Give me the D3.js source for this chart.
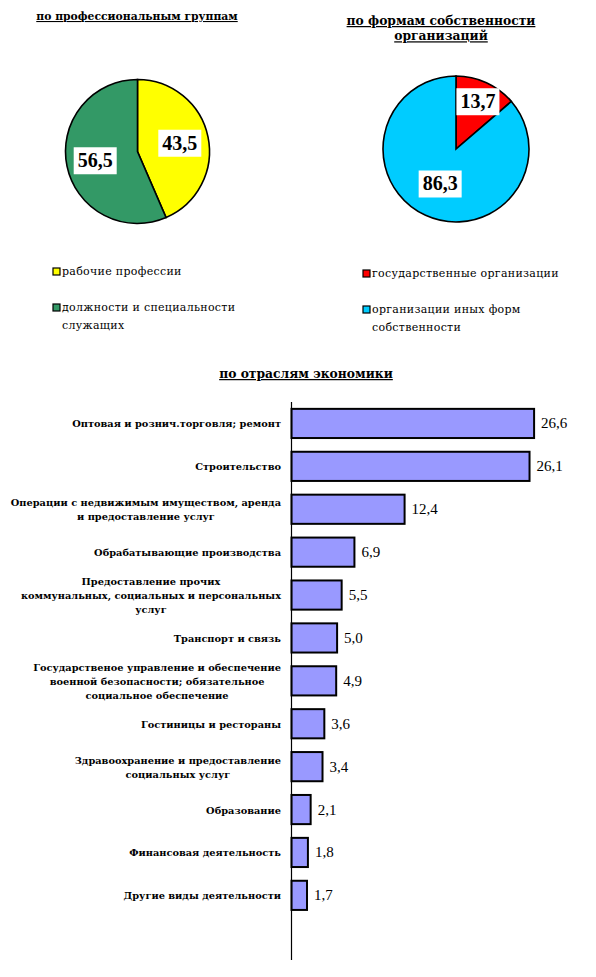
<!DOCTYPE html>
<html>
<head>
<meta charset="utf-8">
<script src="https://cdn.jsdelivr.net/npm/d3@7"></script>
<style>
  html, body { margin: 0; padding: 0; background: #fff; }
  svg { display: block; }
  text { font-family: "Liberation Serif", "DejaVu Serif", serif; fill: #000; }
  text.dv { font-family: "DejaVu Serif", serif; }
</style>
</head>
<body>
<svg id="chart" width="596" height="977"></svg>
<script>
// --- data ---
const profLabels = ['рабочие профессии', 'должности и специальности служащих'];
const profValues = [43.5, 56.5];
const profColors = ['#ffff00', '#339966'];

const ownLabels = ['государственные организации', 'организации иных форм собственности'];
const ownValues = [13.7, 86.3];
const ownColors = ['#ff0000', '#00ccff'];

const industries = [
  'Оптовая и рознич.торговля; ремонт',
  'Строительство',
  'Операции с недвижимым имуществом, аренда\nи предоставление услуг',
  'Обрабатывающие производства',
  'Предоставление прочих\nкоммунальных, социальных и персональных\nуслуг',
  'Транспорт и связь',
  'Государственое управление и обеспечение\nвоенной безопасности; обязательное\nсоциальное обеспечение',
  'Гостиницы и рестораны',
  'Здравоохранение и предоставление\nсоциальных услуг',
  'Образование',
  'Финансовая деятельность',
  'Другие виды деятельности'
];
const industryValues = [26.6, 26.1, 12.4, 6.9, 5.5, 5.0, 4.9, 3.6, 3.4, 2.1, 1.8, 1.7];

const fmt = v => v.toFixed(1).replace('.', ',');
const svg = d3.select('#chart');

// underlined title, one or more lines
function title(x, y, lines, size) {
  lines.forEach((l, i) => {
    svg.append('text')
      .attr('class', 'dv')
      .attr('x', x).attr('y', y + i * (size + 3))
      .attr('text-anchor', 'middle')
      .attr('font-size', size).attr('font-weight', 'bold')
      .attr('text-decoration', 'underline')
      .text(l);
  });
}

function pie(cx, cy, r, values, colors, kBig) {
  const arcs = d3.pie().sort(null)(values);
  const arc = d3.arc().innerRadius(0).outerRadius(r);
  const g = svg.append('g').attr('transform', `translate(${cx},${cy})`);
  g.selectAll('path').data(arcs).join('path')
    .attr('d', arc)
    .attr('fill', (d, i) => colors[i])
    .attr('stroke', '#000').attr('stroke-width', 1.6);

  arcs.forEach(d => {
    const k = d.value < 20 ? 0.72 : kBig;
    const a = (d.startAngle + d.endAngle) / 2;
    const x = Math.sin(a) * r * k, y = -Math.cos(a) * r * k;
    const t = g.append('text')
      .attr('x', x).attr('y', y + 7)
      .attr('text-anchor', 'middle')
      .attr('font-size', 20).attr('font-weight', 'bold')
      .text(fmt(d.value));
    const bb = t.node().getBBox();
    g.insert('rect', 'text')
      .attr('x', bb.x - 4).attr('y', y - 13)
      .attr('width', bb.width + 8).attr('height', 27)
      .attr('fill', '#fff');
  });
}

function legend(x, y, labels, colors, wrapAt) {
  labels.forEach((l, i) => {
    const yy = y + i * 36;
    svg.append('rect')
      .attr('x', x).attr('y', yy - 7)
      .attr('width', 7).attr('height', 7)
      .attr('fill', colors[i]).attr('stroke', '#000').attr('stroke-width', 1.2);
    const words = l.split(' ');
    const lines = words.length > wrapAt ? [words.slice(0, wrapAt).join(' '), words.slice(wrapAt).join(' ')] : [l];
    lines.forEach((s, j) => {
      svg.append('text')
        .attr('class', 'dv')
        .attr('x', x + 9).attr('y', yy + j * 18)
        .attr('font-size', 11).attr('letter-spacing', 0.3)
        .text(s);
    });
  });
}

// --- top pies ---
title(137, 20, ['по профессиональным группам'], 10.8);
pie(137.5, 151.5, 72, profValues, profColors, 0.6);
legend(53, 275, profLabels, profColors, 3);

title(441, 25, ['по формам собственности', 'организаций'], 12.3);
pie(456, 149, 73, ownValues, ownColors, 0.52);
legend(363, 277, ownLabels, ownColors, 3);

// --- bar chart ---
title(306, 378, ['по отраслям экономики'], 12.3);

const x0 = 291.5;
const x = d3.scaleLinear().domain([0, 30]).range([x0, x0 + 273.6]);
const y = d3.scaleBand().domain(industries).range([402, 402 + 12 * 42.9]).paddingInner(0.32).paddingOuter(0.16);

svg.append('g').selectAll('rect').data(industryValues).join('rect')
  .attr('x', x(0))
  .attr('y', (d, i) => y(industries[i]))
  .attr('width', d => x(d) - x(0))
  .attr('height', y.bandwidth())
  .attr('fill', '#9999ff')
  .attr('stroke', '#000').attr('stroke-width', 2);

svg.append('line')
  .attr('x1', x0).attr('x2', x0)
  .attr('y1', 402).attr('y2', 960)
  .attr('stroke', '#000').attr('stroke-width', 1.2);

svg.append('g').selectAll('text').data(industryValues).join('text')
  .attr('x', d => x(d) + 7)
  .attr('y', (d, i) => y(industries[i]) + y.bandwidth() / 2 + 5)
  .attr('font-size', 15)
  .text(fmt);

// category labels: lines centred on each other, block right-aligned
const labelRight = 281;
industries.forEach((cat, i) => {
  const lines = cat.split('\n');
  const cy = y(cat) + y.bandwidth() / 2;
  const g = svg.append('g');
  const ts = lines.map((l, j) => g.append('text')
    .attr('class', 'dv')
    .attr('y', cy + (j - (lines.length - 1) / 2) * 14 + 4)
    .attr('font-size', 9.8).attr('font-weight', 'bold')
    .text(l));
  const w = d3.max(ts, t => t.node().getComputedTextLength());
  ts.forEach(t => t.attr('x', labelRight - w / 2).attr('text-anchor', 'middle'));
});
</script>
</body>
</html>
